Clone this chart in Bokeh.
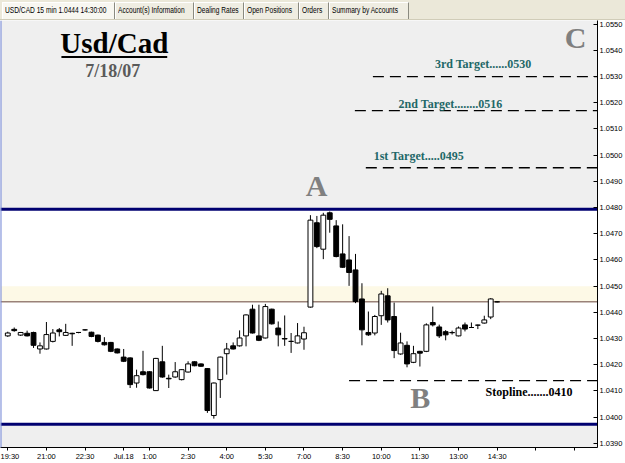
from bokeh.plotting import figure
from bokeh.models import (Range1d, FixedTicker, PrintfTickFormatter, BoxAnnotation,
                          Span, Label, Div)
from bokeh.layouts import column
from bokeh.embed import file_html
from bokeh.resources import INLINE

# ---- 15-minute USD/CAD bars, 17 Jul 19:30 -> 18 Jul 14:30 (bar index 0..76) ----
opens = [1.04310, 1.04335, 1.04313, 1.04320, 1.04323, 1.04260, 1.04260, 1.04289, 1.04333, 1.04312,
         1.04320, 1.04323, 1.04333, 1.04324, 1.04313, 1.04285, 1.04285, 1.04260, 1.04229, 1.04226,
         1.04130, 1.04173, 1.04173, 1.04101, 1.04211, 1.04148, 1.04153, 1.04143, 1.04172, 1.04211,
         1.04203, 1.04185, 1.04006, 1.04143, 1.04242, 1.04272, 1.04272, 1.04310, 1.04412, 1.04310,
         1.04302, 1.04412, 1.04340, 1.04300, 1.04289, 1.04283, 1.04298, 1.04420, 1.04742, 1.04641,
         1.04780, 1.04730, 1.04623, 1.04600, 1.04562, 1.04451, 1.04323, 1.04321, 1.04387, 1.04463,
         1.04384, 1.04241, 1.04274, 1.04209, 1.04251, 1.04251, 1.04361, 1.04344, 1.04326, 1.04323,
         1.04310, 1.04352, 1.04342, 1.04351, 1.04359, 1.04382, 1.04440]
highs = [1.04326, 1.04342, 1.04325, 1.04330, 1.04326, 1.04285, 1.04363, 1.04336, 1.04340, 1.04356,
         1.04322, 1.04325, 1.04335, 1.04326, 1.04315, 1.04305, 1.04287, 1.04262, 1.04260, 1.04228,
         1.04181, 1.04253, 1.04175, 1.04226, 1.04272, 1.04162, 1.04210, 1.04183, 1.04213, 1.04213,
         1.04205, 1.04187, 1.04132, 1.04231, 1.04283, 1.04285, 1.04331, 1.04392, 1.04429, 1.04429,
         1.04432, 1.04414, 1.04365, 1.04388, 1.04321, 1.04359, 1.04345, 1.04771, 1.04768, 1.04780,
         1.04785, 1.04752, 1.04736, 1.04691, 1.04623, 1.04511, 1.04403, 1.04390, 1.04482, 1.04492,
         1.04437, 1.04322, 1.04289, 1.04272, 1.04253, 1.04358, 1.04422, 1.04353, 1.04332, 1.04330,
         1.04346, 1.04361, 1.04361, 1.04353, 1.04387, 1.04454, 1.04442]
lows = [1.04306, 1.04326, 1.04310, 1.04308, 1.04264, 1.04242, 1.04258, 1.04285, 1.04308, 1.04310,
        1.04272, 1.04320, 1.04330, 1.04305, 1.04285, 1.04273, 1.04248, 1.04243, 1.04210, 1.04111,
        1.04112, 1.04159, 1.04109, 1.04100, 1.04150, 1.04111, 1.04150, 1.04140, 1.04170, 1.04194,
        1.04192, 1.04016, 1.03994, 1.04073, 1.04162, 1.04258, 1.04269, 1.04270, 1.04319, 1.04290,
        1.04300, 1.04353, 1.04270, 1.04272, 1.04245, 1.04281, 1.04257, 1.04418, 1.04645, 1.04603,
        1.04704, 1.04610, 1.04570, 1.04501, 1.04435, 1.04274, 1.04310, 1.04312, 1.04352, 1.04361,
        1.04225, 1.04238, 1.04190, 1.04206, 1.04193, 1.04248, 1.04346, 1.04302, 1.04293, 1.04315,
        1.04308, 1.04327, 1.04340, 1.04336, 1.04357, 1.04374, 1.04438]
closes = [1.04321, 1.04330, 1.04323, 1.04310, 1.04274, 1.04272, 1.04315, 1.04321, 1.04326, 1.04323,
          1.04318, 1.04323, 1.04333, 1.04308, 1.04289, 1.04276, 1.04251, 1.04245, 1.04213, 1.04124,
          1.04158, 1.04162, 1.04111, 1.04224, 1.04153, 1.04146, 1.04173, 1.04181, 1.04203, 1.04196,
          1.04194, 1.04025, 1.04130, 1.04229, 1.04260, 1.04260, 1.04302, 1.04390, 1.04321, 1.04293,
          1.04422, 1.04356, 1.04314, 1.04298, 1.04289, 1.04310, 1.04322, 1.04752, 1.04651, 1.04771,
          1.04755, 1.04613, 1.04572, 1.04552, 1.04441, 1.04333, 1.04314, 1.04384, 1.04470, 1.04371,
          1.04254, 1.04283, 1.04203, 1.04242, 1.04244, 1.04352, 1.04352, 1.04310, 1.04314, 1.04322,
          1.04340, 1.04336, 1.04342, 1.04351, 1.04371, 1.04451, 1.04440]

time_tick_index = [0, 6, 12, 18, 22, 28, 34, 40, 46, 52, 58, 64, 70, 76, 82, 88]
time_tick_labels = ["19:30", "21:00", "22:30", "Jul.18", "1:00", "2:30", "4:00", "5:30",
                    "7:00", "8:30", "10:00", "11:30", "13:00", "14:30", "", ""]
price_ticks = [1.0390 + 0.0010 * k for k in range(17)]

upper_channel = 1.04794
lower_channel = 1.03973
last_price = 1.0444
target_levels = [1.05300, 1.05170, 1.04952]
target_texts = ["3rd Target......0530", "2nd Target........0516", "1st Target.....0495"]
stop_level = 1.04139
stop_text = "Stopline.......0410"

# ---- figure ----
x_start, x_end = -1.13, 91.58
p = figure(width=625, height=443, output_backend="svg", toolbar_location=None,
           x_range=Range1d(x_start, x_end), y_range=Range1d(1.038838, 1.055143),
           y_axis_location="right", min_border_left=0, min_border_top=0,
           min_border_right=27, min_border_bottom=15,
           background_fill_color="#efefef", border_fill_color="white",
           outline_line_color=None)
p.grid.visible = False

# channel band (white) + glow above last price
p.add_layout(BoxAnnotation(bottom=lower_channel, top=upper_channel, fill_color="white",
                           fill_alpha=1, line_color=None, level="underlay"))
p.add_layout(BoxAnnotation(bottom=last_price, top=last_price + 0.0006, fill_color="#fdf9e6",
                           fill_alpha=1, line_color=None, level="underlay"))
p.add_layout(Span(location=last_price, dimension="width", line_color="#9a8278",
                  line_width=1.5, level="underlay"))
for lvl in (upper_channel, lower_channel):
    p.add_layout(Span(location=lvl, dimension="width", line_color="#000070",
                      line_width=3, level="underlay"))
p.add_layout(Span(location=x_start, dimension="height", line_color="#7386d8",
                  line_width=2))

# candles
idx = list(range(len(opens)))
body_top = [max(o, c) for o, c in zip(opens, closes)]
body_bot = [min(o, c) for o, c in zip(opens, closes)]
body_col = ["white" if c >= o else "black" for o, c in zip(opens, closes)]
p.segment(x0=idx, y0=lows, x1=idx, y1=highs, line_color="black", line_width=1)
p.vbar(x=idx, top=body_top, bottom=body_bot, width=0.75, fill_color=body_col,
       line_color="black", line_width=1)

# target / stop lines
target_start = [56.7, 53.9, 55.6]
p.segment(x0=target_start, y0=target_levels, x1=[x_end] * 3, y1=target_levels,
          line_color="black", line_width=1.3, line_dash="11 6")
p.segment(x0=[53.0], y0=[stop_level], x1=[x_end], y1=[stop_level],
          line_color="black", line_width=1.3, line_dash="11 6")

serif = "Liberation Serif"
target_pos = [(73.83, 1.053467), (68.76, 1.051970), (63.83, 1.049962)]
for (tx, ty), t in zip(target_pos, target_texts):
    p.add_layout(Label(x=tx, y=ty, text=t, text_align="center", text_baseline="middle",
                       text_font=serif, text_font_style="bold", text_font_size="12px",
                       text_color="#1f6868"))
p.add_layout(Label(x=80.96, y=1.040971, text=stop_text, text_align="center",
                   text_baseline="middle", text_font=serif, text_font_style="bold",
                   text_font_size="12px", text_color="black"))

for lab, lx, ly in (("A", 47.94, 1.048857), ("B", 64.06, 1.040762), ("C", 88.17, 1.054476)):
    p.add_layout(Label(x=lx, y=ly, text=lab, text_align="center", text_baseline="middle",
                       text_font=serif, text_font_style="bold", text_font_size="30px",
                       text_color="#808080"))

p.add_layout(Label(x=16.54, y=1.054286, text="Usd/Cad", text_align="center",
                   text_baseline="middle", text_font=serif, text_font_style="bold",
                   text_font_size="29px", text_color="black"))
p.segment(x0=[8.33], y0=[1.053752], x1=[24.76], y1=[1.053752], line_color="black",
          line_width=2)
p.add_layout(Label(x=16.31, y=1.053219, text="7/18/07", text_align="center",
                   text_baseline="middle", text_font=serif, text_font_style="bold",
                   text_font_size="18px", text_color="#5a5a5a"))

# current price tag on the axis
p.add_layout(Label(x=x_end, y=last_price, x_offset=2, text="1.0444", text_align="left",
                   text_baseline="middle", text_font="Liberation Sans",
                   text_font_style="bold", text_font_size="7.5px", text_color="white",
                   background_fill_color="#8a1212", background_fill_alpha=1))

# axes
p.yaxis.ticker = FixedTicker(ticks=price_ticks)
p.yaxis.formatter = PrintfTickFormatter(format="%.4f")
p.yaxis.major_tick_in = 4
p.yaxis.major_tick_out = 0
p.yaxis.minor_tick_line_color = None
p.yaxis.major_label_standoff = 2
p.yaxis.major_label_text_font = "Liberation Sans"
p.yaxis.major_label_text_font_size = "7.5px"
p.yaxis.major_label_text_color = "black"
p.yaxis.axis_line_color = "black"

p.xaxis.ticker = FixedTicker(ticks=time_tick_index)
p.xaxis.major_label_overrides = {i: t for i, t in zip(time_tick_index, time_tick_labels)}
p.xaxis.major_tick_in = 0
p.xaxis.major_tick_out = 3
p.xaxis.minor_tick_line_color = None
p.xaxis.major_label_standoff = 1
p.xaxis.major_label_text_font = "Liberation Sans"
p.xaxis.major_label_text_font_size = "7.5px"
p.xaxis.major_label_text_color = "black"
p.xaxis.axis_line_color = "black"

# ---- tab bar ----
tabs = [("USD/CAD 15 min 1.0444 14:30:00", 2, 113, True),
        ("Account(s) Information", 115, 79, False),
        ("Dealing Rates", 194, 50, False),
        ("Open Positions", 244, 55, False),
        ("Orders", 299, 30, False),
        ("Summary by Accounts", 329, 80, False)]
spans = []
for text, left, w, active in tabs:
    bg = "#f8f7f1" if active else "#efede2"
    spans.append(
        f'<div style="position:absolute;left:{left}px;top:2px;width:{w}px;height:17px;'
        f'background:{bg};border-left:1px solid #ffffff;border-top:1px solid #ffffff;'
        f'border-right:1px solid #8a8a80;box-sizing:border-box;"></div>'
        f'<span style="position:absolute;left:{left + 3}px;top:3px;white-space:nowrap;'
        f'font-size:8.5px;line-height:15px;transform:scaleX(0.78);'
        f'transform-origin:left center;">{text}</span>')
tab_html = ('<div style="position:relative;width:625px;height:20px;background:#ebe8d9;'
            'font-family:\'Liberation Sans\',Arial,sans-serif;color:black;'
            'border-bottom:1px solid #d0ccb8;box-sizing:border-box;">' + "".join(spans) + '</div>')
tabbar = Div(text=tab_html, width=625, height=20, margin=(0, 0, 0, 0))

layout = column(tabbar, p, spacing=0)
open("out.html", "w").write(file_html(layout, INLINE))
